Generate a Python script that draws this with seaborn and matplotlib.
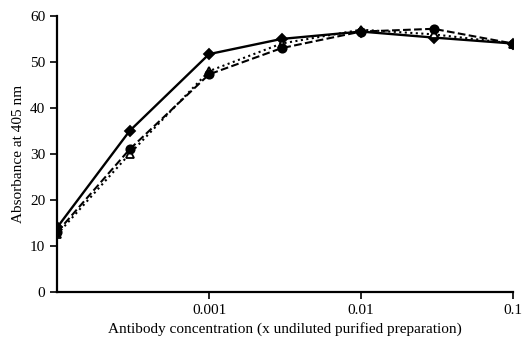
import matplotlib
matplotlib.use("Agg")
import matplotlib.pyplot as plt
import seaborn as sns
import numpy as np
import pandas as pd

# antibody concentration (x undiluted purified preparation)
concentration = [0.0001, 0.0003, 0.001, 0.003, 0.01, 0.03, 0.1]
series_diamond = [14.0, 35.0, 51.7, 55.0, 56.6, 55.3, 54.0]
series_triangle = [12.5, 30.0, 48.0, 54.0, 57.0, 56.0, 54.0]
series_circle = [13.0, 31.0, 47.3, 53.0, 56.6, 57.2, 54.0]

sns.set_style("ticks")
plt.rcParams["font.family"] = ["Liberation Serif", "DejaVu Serif"]
plt.rcParams["text.color"] = "black"
plt.rcParams["axes.labelcolor"] = "black"
plt.rcParams["xtick.color"] = "black"
plt.rcParams["ytick.color"] = "black"

fig = plt.figure(figsize=(5.24, 3.39), dpi=100)
ax = fig.add_axes([0.109, 0.139, 0.87, 0.814])

styles = [
    (series_diamond, "D", "-", "black", 5, 1.7),
    (series_triangle, "^", ":", "white", 5.5, 1.5),
    (series_circle, "o", "--", "black", 6, 1.5),
]
for vals, mk, ls, mfc, ms, lw in styles:
    df = pd.DataFrame({"conc": concentration, "abs": vals})
    sns.lineplot(data=df, x="conc", y="abs", ax=ax, color="black",
                 marker=mk, linestyle=ls, linewidth=lw, markersize=ms,
                 markerfacecolor=mfc, markeredgecolor="black",
                 markeredgewidth=1.3)

ax.set_xscale("log")
ax.set_xlim(0.0001, 0.1)
ax.set_ylim(0, 60)
ax.set_xticks([0.001, 0.01, 0.1])
ax.set_xticklabels(["0.001", "0.01", "0.1"])
ax.xaxis.set_minor_locator(matplotlib.ticker.NullLocator())
ax.set_yticks(range(0, 61, 10))
ax.tick_params(axis="both", direction="out", length=5, width=1.2, labelsize=11)
for side in ["left", "bottom"]:
    ax.spines[side].set_linewidth(1.6)
    ax.spines[side].set_color("black")
sns.despine(ax=ax)

ax.set_xlabel("Antibody concentration (x undiluted purified preparation)", fontsize=11)
ax.set_ylabel("Absorbance at 405 nm", fontsize=11)

fig.savefig("out.png", dpi=100)
